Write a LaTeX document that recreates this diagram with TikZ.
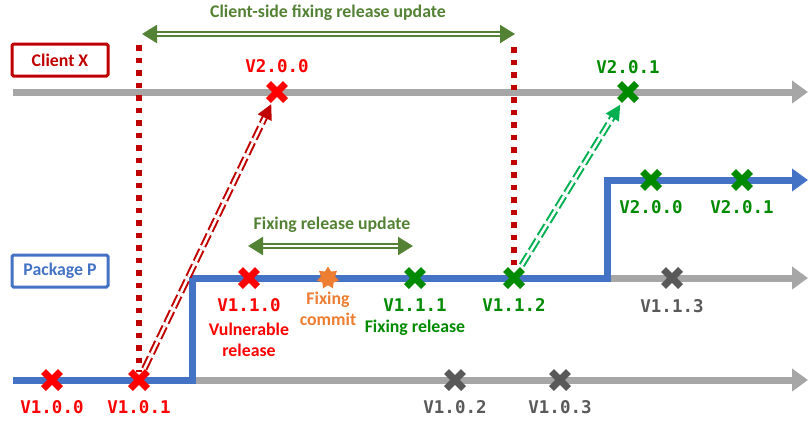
\documentclass[tikz,border=0pt]{standalone}
\usepackage{fontspec}
\setmainfont{Carlito}
\newfontfamily\vermono{DejaVu Sans Mono}
\usetikzlibrary{positioning,arrows.meta,shapes.misc,shapes.geometric}

\definecolor{darkred}{HTML}{C00000}
\definecolor{vred}{HTML}{FF0000}
\definecolor{updgreen}{HTML}{548235}
\definecolor{vgreen}{HTML}{008A00}
\definecolor{lgreen}{HTML}{00B050}
\definecolor{pblue}{HTML}{4472C4}
\definecolor{lgray}{HTML}{A6A6A6}
\definecolor{dgray}{HTML}{595959}
\definecolor{fixorange}{HTML}{ED7D31}

\begin{document}
\begin{tikzpicture}[x=1pt, y=-1pt]
        \tikzstyle{every node}=[font=\fontsize{17.8}{21}\selectfont\bfseries]
        \tikzstyle{ver}=[font=\fontsize{17.5}{20}\selectfont\vermono\bfseries]
        \tikzstyle{vmark}=[draw, cross out, line width=7pt, minimum size=10pt, inner sep=0pt]
        \tikzstyle{lane}=[line width=7pt, -{Triangle[length=16pt, width=22pt]}]
        \tikzstyle{updspan}=[draw=updgreen, double=white, line width=2.2pt, double distance=2pt,
                             {Triangle[length=15pt, width=18pt]}-{Triangle[length=15pt, width=18pt]}]
        \tikzstyle{dashjump}=[double=white, line width=2pt, double distance=2.5pt,
                              dash pattern=on 13pt off 4pt, -{Triangle[length=15pt, width=15pt]}]
        \tikzstyle{vcut}=[darkred, line width=5.5pt, dash pattern=on 5.5pt off 7pt]
        \tikzstyle{boxlabel}=[draw, line width=3pt, rounded corners=1.5pt, minimum width=96pt, minimum height=32pt]

        \useasboundingbox (0,0) rectangle (808,424);

        % lanes
        \coordinate (cxs) at (13,92);    \coordinate (cxe) at (808,92);
        \coordinate (p0) at (13,380);    \coordinate (p1) at (192,380);
        \coordinate (p2) at (192,278);   \coordinate (p3) at (607,278);
        \coordinate (p4) at (607,180);
        \coordinate (pe0) at (808,380);  \coordinate (pe1) at (808,278);
        \coordinate (pe2) at (808,180);

        \draw[lane, lgray] (cxs) -- (cxe);
        \draw[lane, lgray] (p1) -- (pe0);
        \draw[lane, lgray] (p3) -- (pe1);
        \draw[lane, pblue, line join=miter] (p0) -- (p1) -- (p2) -- (p3) -- (p4) -- (pe2);

        \node[boxlabel, darkred] (client) at (60,60) {Client X};
        \node[boxlabel, pblue]   (pkg)    at (60,271) {Package P};

        % releases
        \node[vmark, vred]  (v100) at (52,380) {};
        \node[vmark, vred]  (v101) at (139,380) {};
        \node[vmark, dgray] (v102) at (455,380) {};
        \node[vmark, dgray] (v103) at (560,380) {};
        \node[vmark, vred]  (v110) at (249,278) {};
        \node[star, star points=7, star point ratio=1.6, fill=fixorange, minimum size=23pt, inner sep=0pt] (fix) at (328,278) {};
        \node[vmark, vgreen] (v111) at (415,278) {};
        \node[vmark, vgreen] (v112) at (514,278) {};
        \node[vmark, dgray]  (v113) at (672,278) {};
        \node[vmark, vgreen] (v200) at (651,180) {};
        \node[vmark, vgreen] (v201) at (742,180) {};
        \node[vmark, vred]   (c200) at (277,92) {};
        \node[vmark, vgreen] (c201) at (628,92) {};

        \node[ver, vred]   at ([yshift=-27pt]v100) {V1.0.0};
        \node[ver, vred]   at ([yshift=-27pt]v101) {V1.0.1};
        \node[ver, dgray]  at ([yshift=-27pt]v102) {V1.0.2};
        \node[ver, dgray]  at ([yshift=-27pt]v103) {V1.0.3};
        \node[ver, vred]   at ([yshift=-27pt]v110) {V1.1.0};
        \node[ver, vgreen] at ([yshift=-27pt]v111) {V1.1.1};
        \node[ver, vgreen] at ([yshift=-27pt]v112) {V1.1.2};
        \node[ver, dgray]  at ([yshift=-28pt]v113) {V1.1.3};
        \node[ver, vgreen] at ([yshift=-27pt]v200) {V2.0.0};
        \node[ver, vgreen] at ([yshift=-27pt]v201) {V2.0.1};
        \node[ver, vred]   at ([yshift=26pt]c200) {V2.0.0};
        \node[ver, vgreen] at ([yshift=25pt]c201) {V2.0.1};

        \node[vred, align=center]      at ([yshift=-61.5pt]v110) {Vulnerable\\release};
        \node[fixorange, align=center] at ([yshift=-31pt]fix) {Fixing\\commit};
        \node[vgreen]                  at ([yshift=-50pt]v111) {Fixing release};

        % update spans
        \coordinate (cl) at (142,34);   \coordinate (cr) at (515,34);
        \coordinate (ul) at (248,246);  \coordinate (ur) at (413,246);
        \draw[updspan] (cl) -- (cr);
        \draw[updspan] (ul) -- (ur);
        \node[updgreen] (ctitle) at (328,13) {Client-side fixing release update};
        \node[updgreen] (ptitle) at (332,225) {Fixing release update};

        \coordinate (d1) at (139,45);   \coordinate (d2) at (514,47);
        \draw[vcut] (d1) -- (v101.north);
        \draw[vcut] (d2) -- (v112.north);

        \draw[dashjump, darkred, shorten <=3pt, shorten >=4pt] (v101) -- (c200);
        \draw[dashjump, lgreen, shorten <=5pt, shorten >=5pt] (v112) -- (c201);
\end{tikzpicture}
\end{document}
